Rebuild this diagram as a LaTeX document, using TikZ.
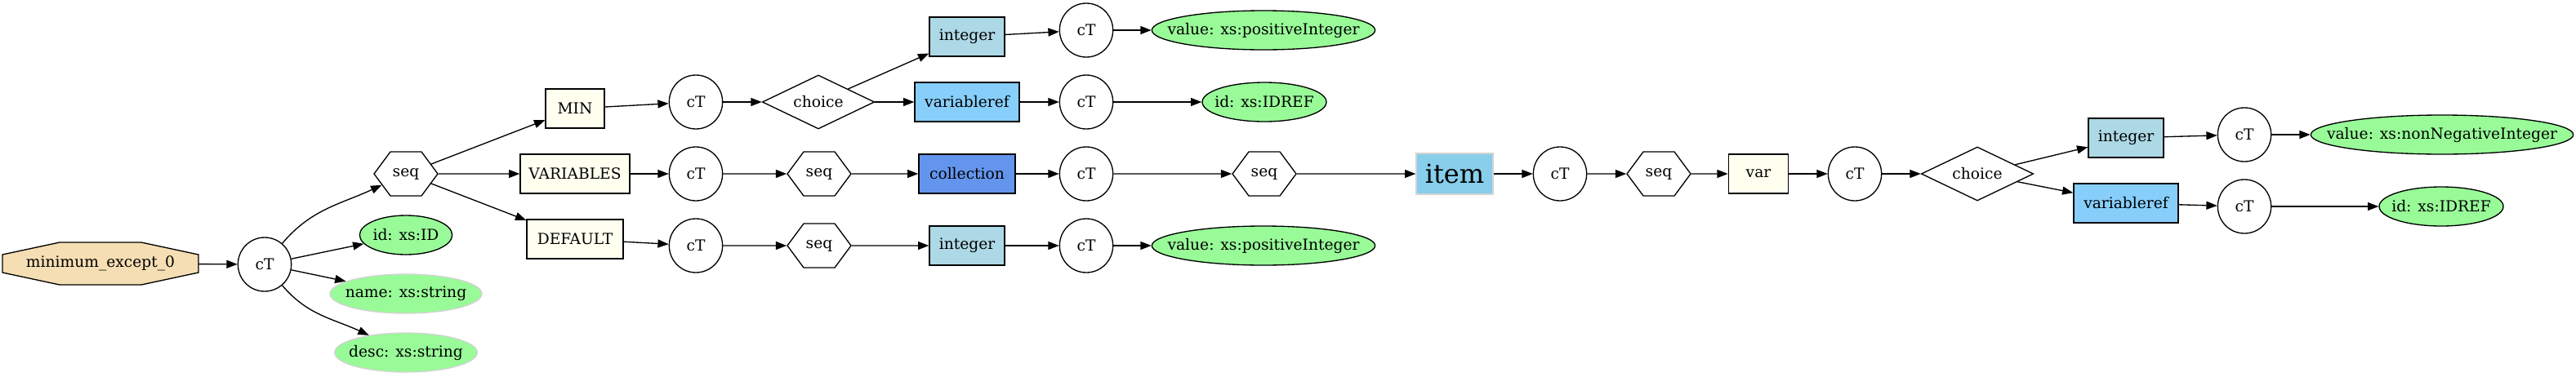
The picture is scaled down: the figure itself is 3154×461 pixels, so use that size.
\documentclass[tikz,border=0pt]{standalone}
\usepackage{fontspec}
\setmainfont{DejaVu Serif}
\usetikzlibrary{arrows.meta,shapes.geometric,shapes.symbols,backgrounds}

\definecolor{wheat}{HTML}{F5DEB3}
\definecolor{ivory}{HTML}{FFFFF0}
\definecolor{lightblue}{HTML}{ADD8E6}
\definecolor{lightskyblue}{HTML}{87CEFA}
\definecolor{cornflower}{HTML}{6495ED}
\definecolor{skyblue}{HTML}{87CEEB}
\definecolor{palegreen}{HTML}{98FB98}
\definecolor{lightgrey}{HTML}{D3D3D3}

\begin{document}
\begin{tikzpicture}[x=0.75pt,y=-0.75pt,line width=1pt,
    >={Triangle[length=10pt,width=7.5pt]},
    every node/.style={font=\fontsize{14}{16}\selectfont,inner sep=0pt},
    ctnode/.style={draw,ellipse,minimum width=49pt,minimum height=49.5pt},
    seqhex/.style={draw,signal,signal to=east and west,signal pointer angle=107,
      minimum width=58.5pt,minimum height=40.5pt},
    choicebox/.style={draw,diamond,aspect=2.08,minimum width=103pt,minimum height=49.5pt},
    elem/.style={draw,fill=ivory,minimum height=36pt},
    typebox/.style={draw,minimum height=36pt},
    attr/.style={draw,ellipse,fill=palegreen,inner xsep=-25pt,minimum height=36pt},
    optattr/.style={attr,draw=lightgrey}]
  \useasboundingbox (0,0) rectangle (3154,461);

  % root element and its complex type
  \node[minimum width=179pt,minimum height=38pt] (root) at (123,323) {minimum\_except\_0};
  \begin{scope}[on background layer]
    \filldraw[line width=1pt,fill=wheat] ([yshift=-11.25pt]root.north west) -- ([xshift=52.5pt]root.north west)
      -- ([xshift=-52.5pt]root.north east) -- ([yshift=-11.25pt]root.north east)
      -- ([yshift=11.25pt]root.south east) -- ([xshift=-52.5pt]root.south east)
      -- ([xshift=52.5pt]root.south west) -- ([yshift=11.25pt]root.south west) -- cycle;
  \end{scope}
  \node[ctnode] (ct0) at (324,324) {cT};
  \node[seqhex] (seqtop) at (497,213) {seq};
  \node[attr,minimum width=85pt] (attrid) at (497,288) {id: xs:ID};
  \node[optattr,minimum width=139.5pt] (attrname) at (497,360) {name: xs:string};
  \node[optattr,minimum width=131pt] (attrdesc) at (497,432) {desc: xs:string};

  % the three children of the sequence
  \node[elem,minimum width=54pt] (minel) at (704,133) {MIN};
  \node[elem,minimum width=100.5pt] (varsel) at (704,213) {VARIABLES};
  \node[elem,minimum width=88.5pt] (defel) at (704,293) {DEFAULT};
  \node[ctnode] (ctmin) at (852,125) {cT};
  \node[ctnode] (ctvars) at (852,213) {cT};
  \node[ctnode] (ctdef) at (852,301) {cT};
  \node[choicebox] (chmin) at (1002,125) {choice};
  \node[seqhex] (seqvars) at (1003,213) {seq};
  \node[seqhex] (seqdef) at (1003,301) {seq};

  \node[typebox,fill=lightblue,minimum width=69pt] (intmin) at (1184,45) {integer};
  \node[typebox,fill=lightskyblue,minimum width=96pt] (refmin) at (1184,125) {variableref};
  \node[typebox,fill=cornflower,minimum width=88.5pt] (coll) at (1184,213) {collection};
  \node[typebox,fill=lightblue,minimum width=69pt] (intdef) at (1184,301) {integer};
  \node[ctnode] (ctint) at (1330,37) {cT};
  \node[ctnode] (ctref) at (1330,125) {cT};
  \node[ctnode] (ctcoll) at (1330,213) {cT};
  \node[ctnode] (ctintdef) at (1330,301) {cT};
  \node[attr,minimum width=205pt] (valint) at (1547,37) {value: xs:positiveInteger};
  \node[attr,minimum width=114pt] (idref) at (1548,125) {id: xs:IDREF};
  \node[seqhex] (seqcoll) at (1548,213) {seq};
  \node[attr,minimum width=205pt] (valdef) at (1547,301) {value: xs:positiveInteger};

  % the item chain
  \node[draw=lightgrey,fill=skyblue,minimum width=70.5pt,minimum height=37.5pt,
    font=\fontsize{24}{28}\selectfont] (item) at (1781,213) {item};
  \node[ctnode] (ctitem) at (1910,213) {cT};
  \node[seqhex] (seqitem) at (2031,213) {seq};
  \node[elem,minimum width=55pt] (var) at (2153,213) {var};
  \node[ctnode] (ctvar) at (2271,213) {cT};
  \node[choicebox] (chvar) at (2421,213) {choice};
  \node[typebox,fill=lightblue,minimum width=69pt] (intvar) at (2603,169) {integer};
  \node[typebox,fill=lightskyblue,minimum width=96pt] (refvar) at (2603,249) {variableref};
  \node[ctnode] (ctintvar) at (2748,165) {cT};
  \node[ctnode] (ctrefvar) at (2748,253) {cT};
  \node[attr,minimum width=241pt] (valnn) at (2990,165) {value: xs:nonNegativeInteger};
  \node[attr,minimum width=114pt] (idrefvar) at (2989,253) {id: xs:IDREF};

  % connectors
  \draw[->] (ct0) to[out=50,in=205] (seqtop);
  \draw[->] (ct0) to[out=-50,in=155] (attrdesc);
  \foreach \a/\b in {root/ct0,ct0/attrid,ct0/attrname,
      seqtop/minel,seqtop/varsel,seqtop/defel,
      minel/ctmin,ctmin/chmin,chmin/intmin,chmin/refmin,intmin/ctint,refmin/ctref,
      ctint/valint,ctref/idref,
      varsel/ctvars,ctvars/seqvars,seqvars/coll,coll/ctcoll,ctcoll/seqcoll,
      seqcoll/item,item/ctitem,ctitem/seqitem,seqitem/var,var/ctvar,ctvar/chvar,
      chvar/intvar,chvar/refvar,intvar/ctintvar,refvar/ctrefvar,
      ctintvar/valnn,ctrefvar/idrefvar,
      defel/ctdef,ctdef/seqdef,seqdef/intdef,intdef/ctintdef,ctintdef/valdef} {
    \draw[->] (\a) -- (\b);
  }
\end{tikzpicture}
\end{document}
